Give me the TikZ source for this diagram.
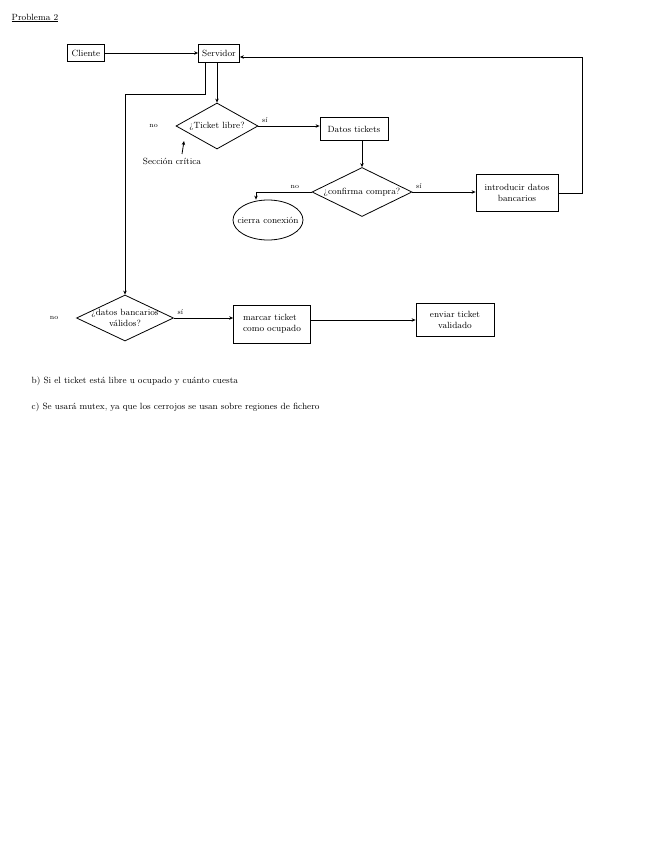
\documentclass[tikz,border=0pt]{standalone}
\usepackage{tikz}
\usetikzlibrary{shapes.geometric,arrows.meta,positioning}

\begin{document}
\begin{tikzpicture}[
    x=1pt, y=-1pt, thick,
    >={Stealth[length=4pt,width=3.5pt]},
    every node/.style={font=\small},
    caja/.style={rectangle,draw,inner sep=2pt,align=center},
    decision/.style={diamond,draw,aspect=2,inner sep=-3pt,align=center},
    fin/.style={ellipse,draw,inner xsep=-8pt,inner ysep=0pt},
    etiqueta/.style={font=\scriptsize}
]
\useasboundingbox (0,0) rectangle (656,848);

% Titulo
\node[anchor=west] (titulo) at (8,18) {\underline{Problema 2}};

% Cliente y servidor
\node[caja,minimum width=37pt,minimum height=17pt] (cliente) at (86,53) {Cliente};
\node[caja,minimum width=41pt,minimum height=18pt] (servidor) at (219,53) {Servidor};

% Primera decision
\node[decision,minimum width=82pt,minimum height=46pt] (libre) at (217,126) {¿Ticket libre?};
\node[etiqueta,left=14pt of libre.west] (nolibre) {no};
\node (critica) at (172,161) {Sección crítica};
\coordinate (flecha) at (184,141);

% Datos y confirmacion
\node[caja,minimum width=68pt,minimum height=23pt] (datos) at (354,129) {Datos tickets};
\node[decision,minimum width=100pt,minimum height=49pt] (confirma) at (362,192) {¿confirma compra?};
\node[fin,minimum width=70pt,minimum height=40pt] (cierra) at (268,220) {cierra conexión};
\node[caja,minimum width=82pt,minimum height=37pt] (introducir) at (517,193) {introducir datos\\bancarios};

% Segunda decision
\node[decision,minimum width=97pt,minimum height=46pt] (bancarios) at (125,318) {¿datos bancarios\\válidos?};
\node[etiqueta,left=14pt of bancarios.west] (nobancarios) {no};
\node[caja,minimum width=77pt,minimum height=38pt,align=left] (marcar) at (272,324) {marcar ticket\\como ocupado};
\node[caja,minimum width=78pt,minimum height=33pt] (enviar) at (455,320) {enviar ticket\\validado};

% Respuestas
\node[anchor=west] (respb) at (28,381) {b) Si el ticket está libre u ocupado y cuánto cuesta};
\node[anchor=west] (respc) at (28,407) {c) Se usará mutex, ya que los cerrojos se usan sobre regiones de fichero};

% Flechas
\draw[->] (cliente) -- (servidor);
\draw[->] (servidor.south -| libre.north) -- (libre);
\draw[->] ([xshift=10pt]critica.north) -- (flecha);
\draw[->] (libre.east) -- (libre.east -| datos.west) node[etiqueta,pos=0,above right] {sí};
\draw[->] (confirma.north |- datos.south) -- (confirma);
\draw[->] (confirma.west) -| ([xshift=-12pt]cierra.north) node[etiqueta,pos=0.15,above] {no};
\draw[->] (confirma.east) -- (confirma.east -| introducir.west) node[etiqueta,pos=0,above right] {sí};
\draw[->] (introducir.east) -- ++(24,0) |- ([yshift=-4pt]servidor.east);
\draw[->] ([xshift=-14pt]servidor.south) -- ++(0,32) -| (bancarios.north);
\draw[->] (bancarios.east) -- (bancarios.east -| marcar.west) node[etiqueta,pos=0,above right] {sí};
\draw[->] (marcar.east |- enviar) -- (enviar.west);
\end{tikzpicture}
\end{document}
